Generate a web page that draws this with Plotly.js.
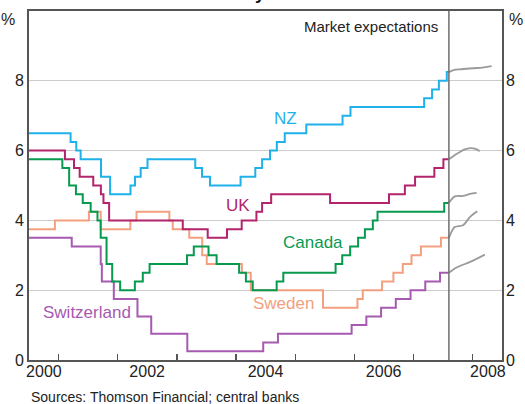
<!DOCTYPE html>
<html>
<head>
<meta charset="utf-8">
<script src="https://cdn.plot.ly/plotly-3.0.1.min.js"></script>
<style>
  html, body { margin: 0; padding: 0; background: #fff; }
  #chart { width: 525px; height: 404px; }
</style>
</head>
<body>
<div id="chart"></div>
<script>
// ---------------- DATA ----------------
const axisStart = '2000-07-01';
const axisEnd = '2008-07-01';
const expectationsStart = '2007-08-08';

const yearTicks = ['2001-01-01','2002-01-01','2003-01-01','2004-01-01','2005-01-01','2006-01-01','2007-01-01','2008-01-01'];
const yearLabelDates = ['2000-10-01','2002-07-01','2004-07-01','2006-07-01','2008-04-05'];
const yearLabels = ['2000','2002','2004','2006','2008'];
const yTicks = [0, 2, 4, 6, 8];

const nzDates = ['2000-07-01','2001-03-15','2001-04-19','2001-05-16','2001-09-19','2001-11-14','2002-03-20','2002-04-17','2002-05-22','2002-07-03','2003-04-24','2003-06-05','2003-07-24','2004-01-29','2004-04-29','2004-06-10','2004-07-29','2004-09-09','2004-10-28','2005-03-10','2005-10-20','2005-12-08','2007-03-08','2007-04-26','2007-06-07','2007-07-26','2007-08-08'];
const nzRates = [6.5,6.25,6.0,5.75,5.25,4.75,5.0,5.25,5.5,5.75,5.5,5.25,5.0,5.25,5.5,5.75,6.0,6.25,6.5,6.75,7.0,7.25,7.5,7.75,8.0,8.25,8.25];

const ukDates = ['2000-07-01','2001-02-08','2001-04-05','2001-05-10','2001-08-02','2001-09-18','2001-10-04','2001-11-08','2003-02-06','2003-07-10','2003-11-06','2004-02-05','2004-05-06','2004-06-10','2004-08-05','2005-08-04','2006-08-03','2006-11-09','2007-01-11','2007-05-10','2007-07-05','2007-08-08'];
const ukRates = [6.0,5.75,5.5,5.25,5.0,4.75,4.5,4.0,3.75,3.5,3.75,4.0,4.25,4.5,4.75,4.5,4.75,5.0,5.25,5.5,5.75,5.75];

const caDates = ['2000-07-01','2001-01-23','2001-03-06','2001-04-17','2001-05-29','2001-07-17','2001-08-28','2001-09-17','2001-10-23','2001-11-27','2002-01-15','2002-04-16','2002-06-04','2002-07-16','2003-03-04','2003-04-15','2003-07-15','2003-09-03','2004-01-20','2004-03-02','2004-04-13','2004-09-08','2004-10-19','2005-09-07','2005-10-18','2005-12-06','2006-01-24','2006-03-07','2006-04-25','2006-05-24','2007-07-10','2007-08-08'];
const caRates = [5.75,5.5,5.0,4.75,4.5,4.25,4.0,3.5,2.75,2.25,2.0,2.25,2.5,2.75,3.0,3.25,3.0,2.75,2.5,2.25,2.0,2.25,2.5,2.75,3.0,3.25,3.5,3.75,4.0,4.25,4.5,4.5];

const seDates = ['2000-07-01','2000-12-08','2001-07-06','2001-09-17','2002-03-19','2002-04-26','2002-11-15','2002-12-06','2003-03-18','2003-06-06','2003-07-04','2004-02-06','2004-04-01','2005-06-21','2006-01-20','2006-02-22','2006-06-21','2006-08-30','2006-10-27','2006-12-20','2007-02-16','2007-06-20','2007-08-08'];
const seRates = [3.75,4.0,4.25,3.75,4.0,4.25,4.0,3.75,3.5,3.0,2.75,2.5,2.0,1.5,1.75,2.0,2.25,2.5,2.75,3.0,3.25,3.5,3.5];

const chDates = ['2000-07-01','2001-03-22','2001-09-17','2001-09-24','2001-12-07','2002-05-02','2002-07-26','2003-03-06','2004-06-17','2004-09-16','2005-12-15','2006-03-16','2006-06-15','2006-09-14','2006-12-14','2007-03-15','2007-06-14','2007-08-08'];
const chRates = [3.5,3.25,2.75,2.25,1.75,1.25,0.75,0.25,0.5,0.75,1.0,1.25,1.5,1.75,2.0,2.25,2.5,2.5];

// Market expectations
const nzExpDates = ['2007-08-08','2007-09-10','2007-10-16','2008-01-04','2008-03-01','2008-04-28'];
const nzExpRates = [8.25,8.31,8.33,8.36,8.38,8.42];
const ukExpDates = ['2007-08-08','2007-09-24','2007-11-10','2007-12-20','2008-01-20','2008-02-14'];
const ukExpRates = [5.75,5.9,6.03,6.07,6.05,5.98];
const caExpDates = ['2007-08-08','2007-09-13','2007-11-03','2007-12-17','2008-01-26'];
const caExpRates = [4.5,4.69,4.7,4.76,4.79];
const seExpDates = ['2007-08-08','2007-09-13','2007-11-03','2007-12-17','2008-01-30'];
const seExpRates = [3.5,3.81,3.86,4.1,4.26];
const chExpDates = ['2007-08-08','2007-09-24','2007-12-17','2008-03-17'];
const chExpRates = [2.5,2.65,2.81,3.02];

// ---------------- STYLE ----------------
const FONT = 'Arial, "Liberation Sans", Helvetica, sans-serif';
const C = {
  nz: '#1fb1ea', uk: '#b2246c', ca: '#079a4f', se: '#f3a080', ch: '#a65ab0',
  exp: '#9a9a9a', axis: '#555555', grid: '#cccccc', text: '#222222'
};

function step(x, y, color) {
  return { x: x, y: y, type: 'scatter', mode: 'lines', line: { color: color, width: 2, shape: 'hv' }, hoverinfo: 'skip', showlegend: false };
}
function curve(x, y) {
  return { x: x, y: y, type: 'scatter', mode: 'lines', line: { color: C.exp, width: 1.8, shape: 'spline', smoothing: 0.8 }, hoverinfo: 'skip', showlegend: false };
}

const traces = [
  step(seDates, seRates, C.se),
  step(chDates, chRates, C.ch),
  step(caDates, caRates, C.ca),
  step(ukDates, ukRates, C.uk),
  step(nzDates, nzRates, C.nz),
  curve(nzExpDates, nzExpRates),
  curve(ukExpDates, ukExpRates),
  curve(caExpDates, caExpRates),
  curve(seExpDates, seExpRates),
  curve(chExpDates, chExpRates),
  { x: [], y: [], xaxis: 'x2', yaxis: 'y2', type: 'scatter', mode: 'lines', showlegend: false, hoverinfo: 'skip' }
];

function label(text, x, y, color, extra) {
  return Object.assign({ text: text, x: x, y: y, xref: 'x', yref: 'y', showarrow: false,
    font: { family: FONT, size: 17, color: color } }, extra || {});
}

const layout = {
  width: 525, height: 404,
  margin: { l: 29, r: 23, t: 11, b: 44, pad: 0 },
  paper_bgcolor: '#ffffff', plot_bgcolor: '#ffffff',
  showlegend: false,
  font: { family: FONT, color: C.text },
  xaxis: {
    type: 'date', range: [axisStart, axisEnd], fixedrange: true,
    showgrid: false, zeroline: false,
    showline: true, linecolor: C.axis, linewidth: 2, mirror: true,
    ticks: 'inside', ticklen: 6, tickwidth: 1.2, tickcolor: C.axis,
    tickvals: yearTicks, showticklabels: false
  },
  xaxis2: {
    type: 'date', range: [axisStart, axisEnd], overlaying: 'x', anchor: 'y', side: 'bottom',
    showgrid: false, zeroline: false, showline: false, ticks: '',
    tickvals: yearLabelDates, ticktext: yearLabels,
    tickfont: { family: FONT, size: 16, color: C.text }
  },
  yaxis: {
    range: [0, 10], fixedrange: true, tickvals: yTicks,
    showgrid: true, gridcolor: C.grid, gridwidth: 1, zeroline: false,
    showline: true, linecolor: C.axis, linewidth: 2, mirror: true,
    ticks: '', tickfont: { family: FONT, size: 16, color: C.text }
  },
  yaxis2: {
    range: [0, 10], overlaying: 'y', side: 'right', anchor: 'x', tickvals: yTicks,
    showgrid: false, zeroline: false, showline: false, ticks: '', ticklabelstandoff: 3,
    tickfont: { family: FONT, size: 16, color: C.text }
  },
  shapes: [
    { type: 'line', xref: 'x', yref: 'paper', x0: expectationsStart, x1: expectationsStart, y0: 0, y1: 1,
      line: { color: '#6e6e6e', width: 1.5 } }
  ],
  annotations: [
    { text: '<b>Policy Rates</b>', xref: 'paper', yref: 'paper', x: 0.5, y: 1.053, xanchor: 'center', yanchor: 'middle',
      showarrow: false, font: { family: FONT, size: 18, color: '#111' } },
    { text: '%', xref: 'paper', yref: 'paper', x: -0.025, y: 0.975, xanchor: 'right', yanchor: 'middle', showarrow: false,
      font: { family: FONT, size: 16, color: C.text } },
    { text: '%', xref: 'paper', yref: 'paper', x: 1.01, y: 0.975, xanchor: 'left', yanchor: 'middle', showarrow: false,
      font: { family: FONT, size: 16, color: C.text } },
    { text: 'Market expectations', xref: 'x', yref: 'paper', x: '2007-06-12', y: 0.955, xanchor: 'right', yanchor: 'middle',
      showarrow: false, font: { family: FONT, size: 15, color: C.text } },
    label('NZ', '2004-11-04', 6.91, C.nz),
    label('UK', '2004-01-12', 4.43, C.uk),
    label('Canada', '2005-04-20', 3.37, C.ca),
    label('Sweden', '2004-10-23', 1.63, C.se),
    label('Switzerland', '2001-06-24', 1.37, C.ch),
    { text: 'Sources: Thomson Financial; central banks', xref: 'paper', yref: 'paper', x: 0, y: -0.105,
      xanchor: 'left', yanchor: 'middle', showarrow: false, font: { family: FONT, size: 14, color: C.text } }
  ]
};

Plotly.newPlot('chart', traces, layout, { staticPlot: true, displayModeBar: false });
</script>
</body>
</html>
